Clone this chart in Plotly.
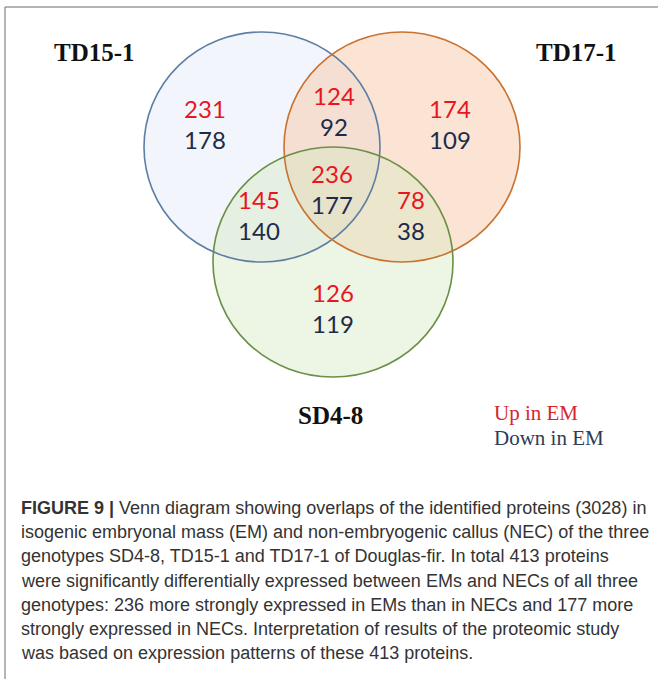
import plotly.graph_objects as go

# ---- data ----
regions = ["TD15-1 only", "TD15-1 & TD17-1", "TD17-1 only",
           "TD15-1 & SD4-8", "all three", "TD17-1 & SD4-8", "SD4-8 only"]
up_in_em = [231, 124, 174, 145, 236, 78, 126]
down_in_em = [178, 92, 109, 140, 177, 38, 119]
set_names = ["TD15-1", "TD17-1", "SD4-8"]
caption_lines = [
    "<b>FIGURE 9 |</b> Venn diagram showing overlaps of the identified proteins (3028) in",
    "isogenic embryonal mass (EM) and non-embryogenic callus (NEC) of the three",
    "genotypes SD4-8, TD15-1 and TD17-1 of Douglas-fir. In total 413 proteins",
    "were significantly differentially expressed between EMs and NECs of all three",
    "genotypes: 236 more strongly expressed in EMs than in NECs and 177 more",
    "strongly expressed in NECs. Interpretation of results of the proteomic study",
    "was based on expression patterns of these 413 proteins.",
]

# ---- layout (pixel coordinates) ----
W, H = 658, 679
region_pos = {
    "TD15-1 only": (205, 112),
    "TD15-1 & TD17-1": (334, 99),
    "TD17-1 only": (450, 112),
    "TD15-1 & SD4-8": (259, 203),
    "all three": (332, 177),
    "TD17-1 & SD4-8": (411, 203),
    "SD4-8 only": (333, 296),
}
line_gap = 31
circles = {
    "TD15-1": dict(x0=144, x1=380, y0=32, y1=262, line="#5E7FA3", fill="rgba(222,233,248,0.40)"),
    "TD17-1": dict(x0=284, x1=520, y0=32, y1=262, line="#C9732F", fill="rgba(246,196,160,0.45)"),
    "SD4-8": dict(x0=213, x1=453, y0=147, y1=377, line="#6A8F45", fill="rgba(214,232,196,0.45)"),
}
label_pos = {"TD15-1": (94, 52), "TD17-1": (576, 52), "SD4-8": (330, 415)}

fig = go.Figure()

shapes = []
# outer frame
shapes.append(dict(type="rect", xref="x", yref="y", x0=5, y0=7, x1=W + 10, y1=H + 10,
                   line=dict(color="#6b6b6b", width=1), fillcolor="rgba(0,0,0,0)", layer="below"))
for name in set_names:
    c = circles[name]
    shapes.append(dict(type="circle", xref="x", yref="y", x0=c["x0"], x1=c["x1"],
                       y0=c["y0"], y1=c["y1"], fillcolor=c["fill"],
                       line=dict(width=0), layer="below"))
for name in set_names:
    c = circles[name]
    shapes.append(dict(type="circle", xref="x", yref="y", x0=c["x0"], x1=c["x1"],
                       y0=c["y0"], y1=c["y1"], fillcolor="rgba(0,0,0,0)",
                       line=dict(color=c["line"], width=1.6), layer="below"))

xs = [region_pos[r][0] for r in regions]
ys = [region_pos[r][1] for r in regions]
fig.add_trace(go.Scatter(x=xs, y=ys, mode="text", text=[str(v) for v in up_in_em],
                         textfont=dict(family="Lato", size=24, color="#E8161E"),
                         hoverinfo="skip", showlegend=False))
fig.add_trace(go.Scatter(x=xs, y=[y + line_gap for y in ys], mode="text",
                         text=[str(v) for v in down_in_em],
                         textfont=dict(family="Lato", size=24, color="#1E2B48"),
                         hoverinfo="skip", showlegend=False))

annotations = []
for name in set_names:
    lx, ly = label_pos[name]
    annotations.append(dict(x=lx, y=ly, xref="x", yref="y", text="<b>%s</b>" % name,
                            showarrow=False, xanchor="center", yanchor="middle",
                            font=dict(family="Liberation Serif", size=25, color="#111111")))
annotations.append(dict(x=492, y=413, xref="x", yref="y", text="Up in EM", showarrow=False,
                        xanchor="left", yanchor="middle",
                        font=dict(family="Liberation Serif", size=21, color="#D7262C")))
annotations.append(dict(x=492, y=438, xref="x", yref="y", text="Down in EM", showarrow=False,
                        xanchor="left", yanchor="middle",
                        font=dict(family="Liberation Serif", size=21, color="#2E3B57")))
for i, line in enumerate(caption_lines):
    annotations.append(dict(x=19, y=508 + i * 24.2, xref="x", yref="y", text=line,
                            showarrow=False, xanchor="left", yanchor="middle",
                            font=dict(family="Liberation Sans", size=18, color="#333333")))

fig.update_layout(
    width=W, height=H, margin=dict(l=0, r=0, t=0, b=0),
    paper_bgcolor="white", plot_bgcolor="white",
    xaxis=dict(range=[0, W], visible=False, fixedrange=True),
    yaxis=dict(range=[H, 0], visible=False, fixedrange=True),
    shapes=shapes, annotations=annotations,
)

fig.write_html("out.html", config={"displayModeBar": False},
               post_script="document.body.style.margin='0';document.body.style.overflow='hidden';")
